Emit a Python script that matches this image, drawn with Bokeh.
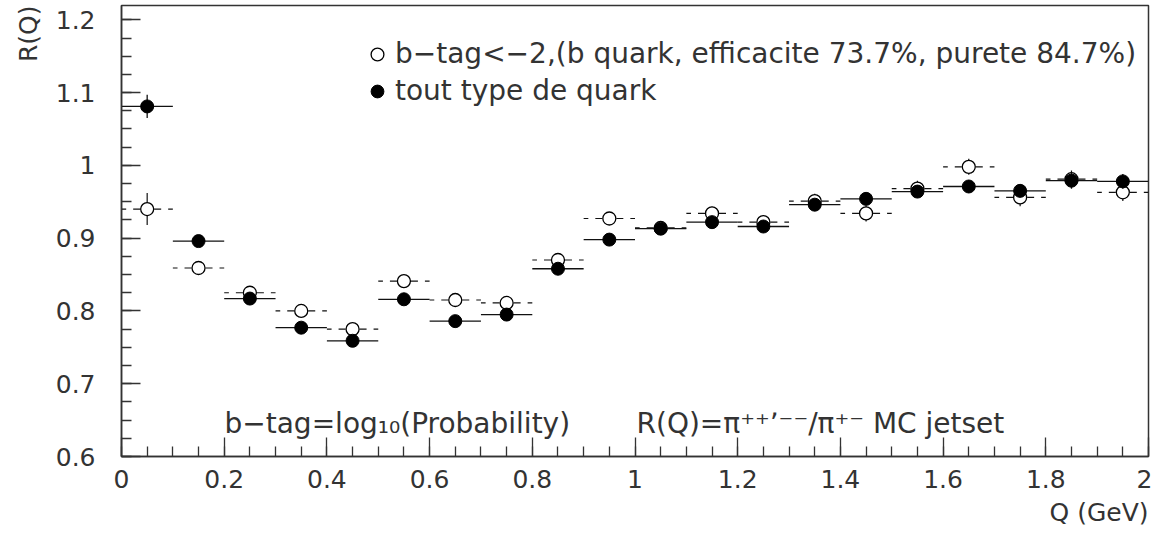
import numpy as np
from bokeh.plotting import figure
from bokeh.models import (Range1d, Label, Legend, LegendItem, FixedTicker,
                          CustomJSTickFormatter, Title)
from bokeh.embed import file_html
from bokeh.resources import INLINE

# ---------------- data ----------------
q_center = [0.05, 0.15, 0.25, 0.35, 0.45, 0.55, 0.65, 0.75, 0.85, 0.95,
            1.05, 1.15, 1.25, 1.35, 1.45, 1.55, 1.65, 1.75, 1.85, 1.95]
bin_half = 0.05

# b-tag < -2 (open circles, dashed bin lines)
r_btag = [0.940, 0.859, 0.825, 0.800, 0.775, 0.841, 0.815, 0.811, 0.870, 0.927,
          0.914, 0.934, 0.922, 0.951, 0.934, 0.968, 0.998, 0.956, 0.981, 0.963]
err_btag = [0.022, 0.007, 0.007, 0.007, 0.007, 0.008, 0.008, 0.008, 0.008, 0.009,
            0.009, 0.009, 0.009, 0.010, 0.011, 0.011, 0.011, 0.012, 0.012, 0.012]

# all quark types (filled circles, solid bin lines)
r_all = [1.081, 0.896, 0.817, 0.777, 0.759, 0.816, 0.786, 0.795, 0.858, 0.898,
         0.913, 0.922, 0.916, 0.946, 0.954, 0.964, 0.971, 0.965, 0.979, 0.978]
err_all = [0.016, 0.006, 0.006, 0.006, 0.006, 0.006, 0.006, 0.006, 0.007, 0.007,
           0.007, 0.007, 0.007, 0.008, 0.008, 0.008, 0.009, 0.009, 0.011, 0.010]

x_major = [0.0, 0.2, 0.4, 0.6, 0.8, 1.0, 1.2, 1.4, 1.6, 1.8, 2.0]
y_major = [0.6, 0.7, 0.8, 0.9, 1.0, 1.1, 1.2]

legend_open = "b\u2212tag<\u22122,(b quark, efficacite 73.7%, purete 84.7%)"
legend_filled = "tout type de quark"
note_left = "b\u2212tag=log\u2081\u2080(Probability)"
note_right = "R(Q)=\u03c0\u207a\u207a\u02bc\u207b\u207b/\u03c0\u207a\u207b MC jetset"
y_title = "R(Q)"
x_title = "Q (GeV)"

FONT = "DejaVu Sans"
TXT = "#333333"
INK = "#111111"

# ---------------- figure ----------------
p = figure(width=1152, height=532, output_backend="svg", toolbar_location=None,
           title_location=None,
           x_range=Range1d(0, 2), y_range=Range1d(0.6, 0.6 + 451 / 727.8),
           min_border_left=121, min_border_right=4, min_border_top=5,
           min_border_bottom=76)
p.grid.visible = False
p.outline_line_color = "#333333"
p.outline_line_width = 1.5
p.background_fill_color = "white"
p.border_fill_color = "white"

xq = np.array(q_center)
yb = np.array(r_btag)
eb = np.array(err_btag)
ya = np.array(r_all)
ea = np.array(err_all)

# open series: dashed bin lines from center outward, error bars, markers
for sign in (-1, 1):
    p.segment(x0=xq, y0=yb, x1=xq + sign * bin_half, y1=yb, line_color=INK,
              line_width=1.2, line_dash="7 7", line_dash_offset=7)
p.segment(x0=xq, y0=yb - eb, x1=xq, y1=yb + eb, line_color=INK, line_width=1.2)
r_open = p.scatter(xq, yb, size=13, marker="circle", fill_color="white",
                   line_color="black", line_width=1.3)

# filled series
p.segment(x0=xq - bin_half, y0=ya, x1=xq + bin_half, y1=ya, line_color=INK,
          line_width=1.3)
p.segment(x0=xq, y0=ya - ea, x1=xq, y1=ya + ea, line_color=INK, line_width=1.3)
r_fill = p.scatter(xq, ya, size=13, marker="circle", fill_color="black",
                   line_color="black", line_width=1)

# ---------------- axes ----------------
fmt = CustomJSTickFormatter(code="return tick.toFixed(1).replace(/\\.0$/, '');")
xminor = list(np.round(np.arange(0, 2.0001, 0.05), 3))
yminor = list(np.round(np.arange(0.6, 1.2151, 0.025), 4))
p.xaxis.ticker = FixedTicker(ticks=x_major, minor_ticks=xminor)
p.yaxis.ticker = FixedTicker(ticks=y_major, minor_ticks=yminor)
for ax in (p.xaxis[0], p.yaxis[0]):
    ax.formatter = fmt
    ax.major_tick_in = 19
    ax.major_tick_out = 0
    ax.minor_tick_in = 10
    ax.minor_tick_out = 0
    ax.axis_line_color = "#333333"
    ax.axis_line_width = 1.5
    ax.major_tick_line_color = "#333333"
    ax.minor_tick_line_color = "#333333"
    ax.major_tick_line_width = 1.3
    ax.minor_tick_line_width = 1.3
    ax.major_label_text_font = FONT
    ax.major_label_text_font_size = "25px"
    ax.major_label_text_color = TXT
p.xaxis.major_label_standoff = 13
p.yaxis.major_label_standoff = 26

# axis titles (ROOT style: at the ends of the axes)
p.add_layout(Title(text=y_title, align="right", text_font=FONT,
                   text_font_size="25px", text_font_style="normal",
                   text_color=TXT, standoff=20), "left")
p.add_layout(Title(text=x_title, align="right", text_font=FONT,
                   text_font_size="25px", text_font_style="normal",
                   text_color=TXT, standoff=10), "below")

# ---------------- legend ----------------
legend = Legend(items=[LegendItem(label=legend_open, renderers=[r_open]),
                       LegendItem(label=legend_filled, renderers=[r_fill])],
                location=(240, 349), glyph_width=32, glyph_height=32,
                spacing=4, padding=0, margin=0, label_standoff=2,
                label_text_font=FONT, label_text_font_size="28px",
                label_text_color=TXT, border_line_alpha=0,
                background_fill_alpha=0)
p.add_layout(legend)

# ---------------- texts ----------------
common = dict(x_units="screen", y_units="screen", text_font=FONT,
              text_color=TXT, text_font_size="28px",
              text_baseline="alphabetic")
p.add_layout(Label(x=103, y=33, text=note_left, **common))
p.add_layout(Label(x=515, y=33, text=note_right, **common))

open("out.html", "w").write(file_html(p, INLINE))
